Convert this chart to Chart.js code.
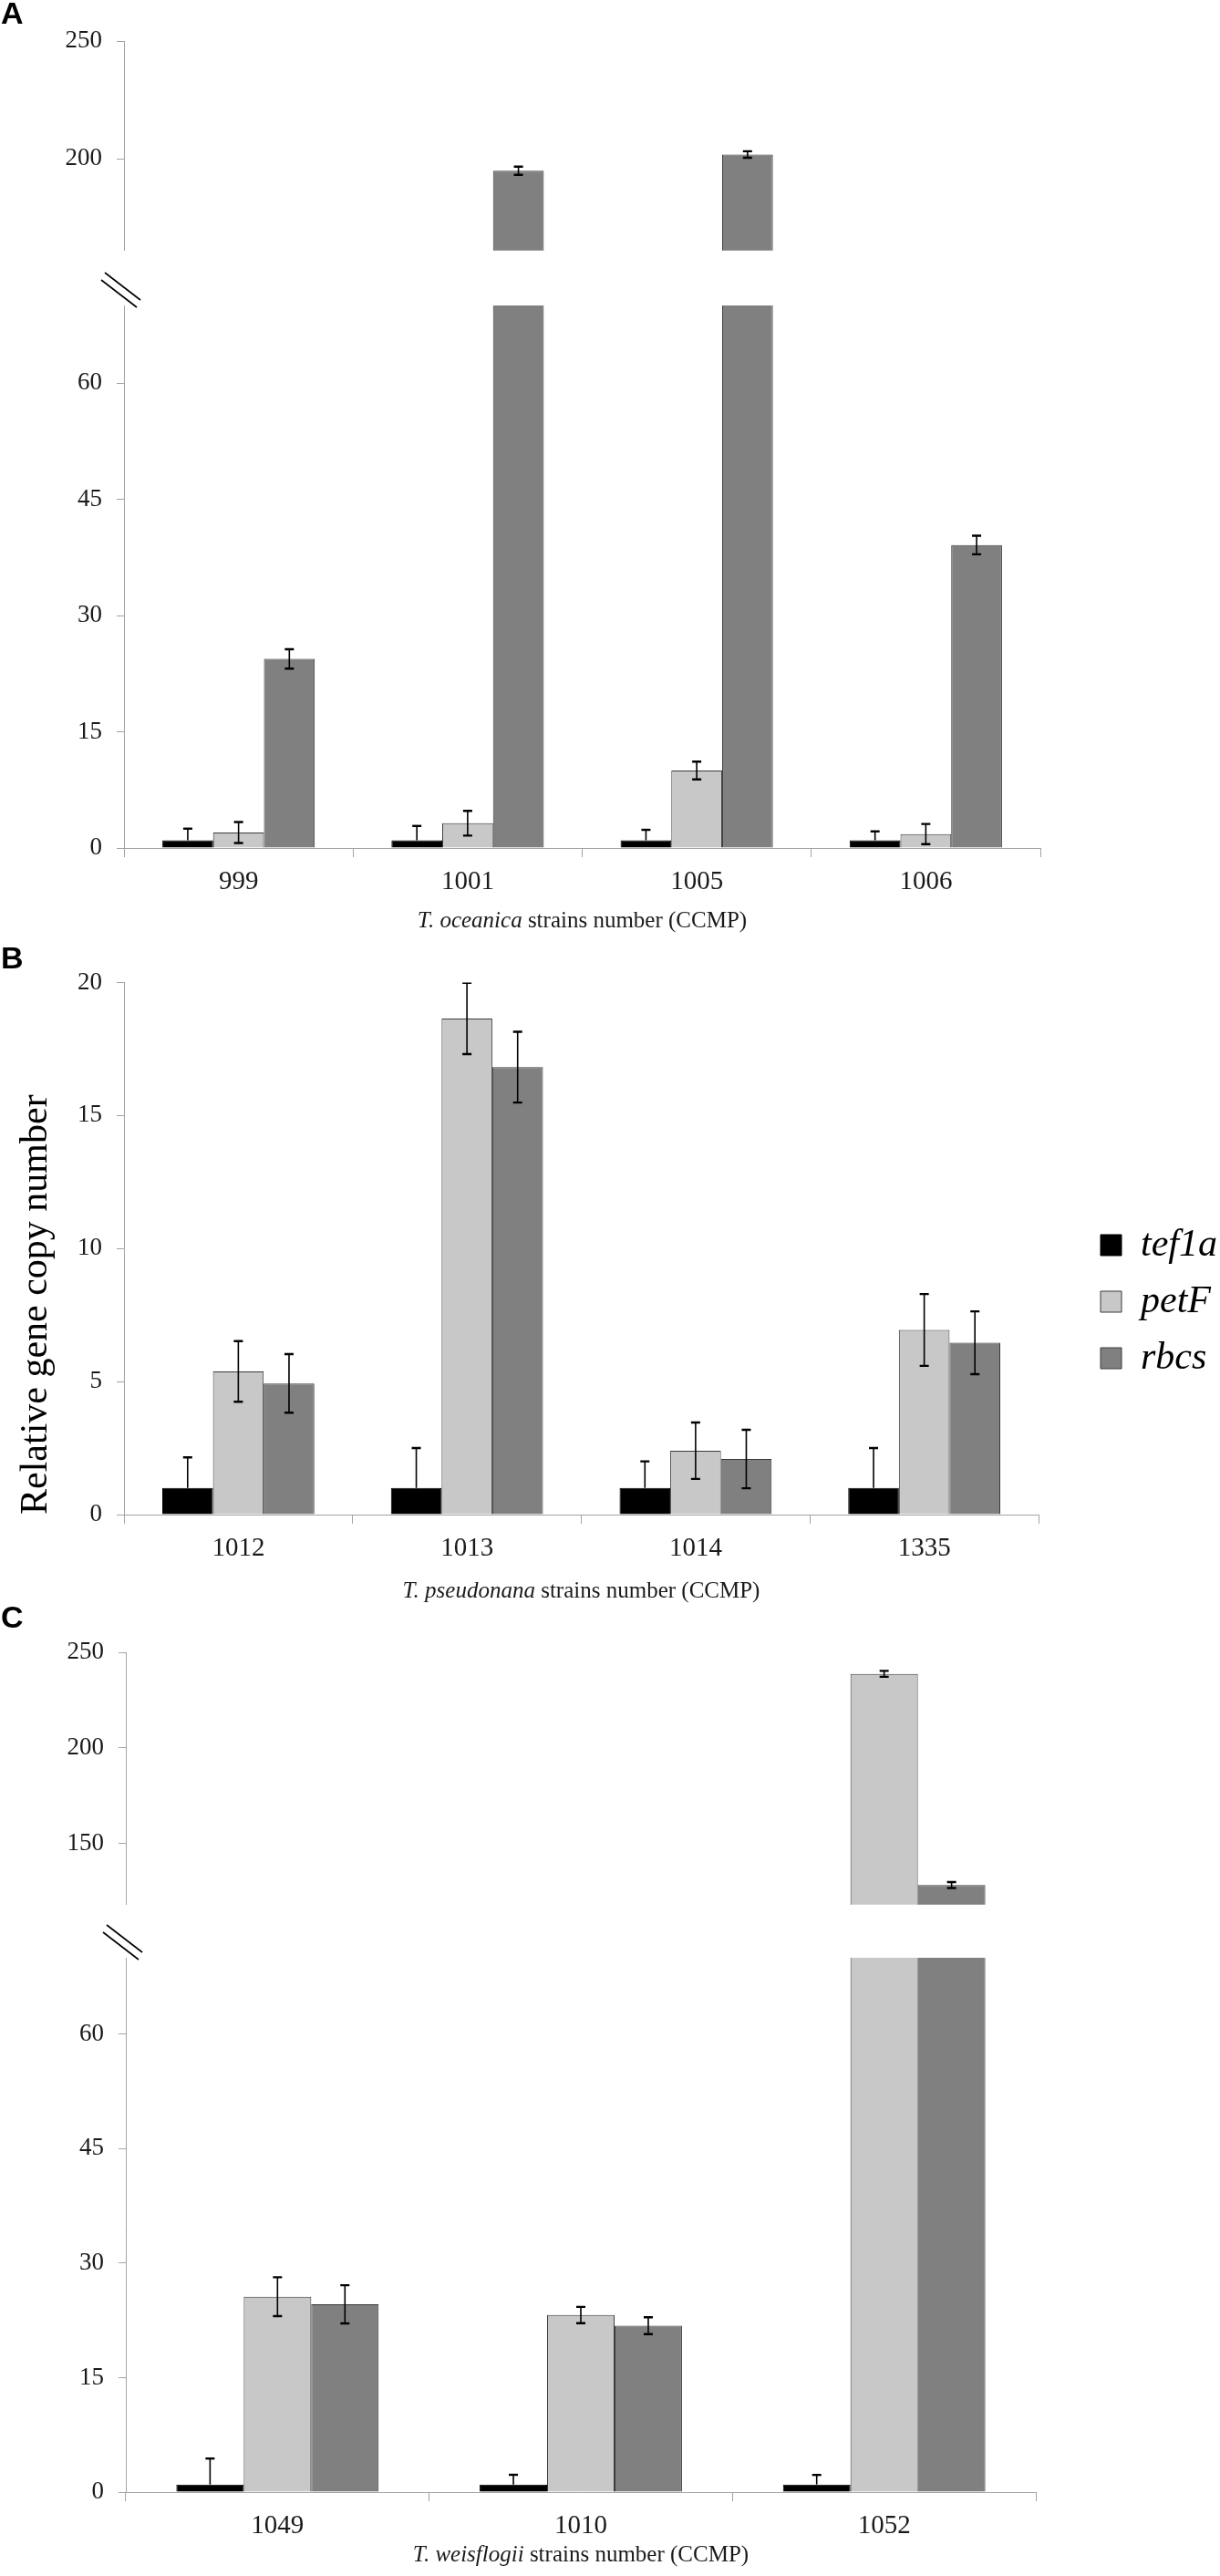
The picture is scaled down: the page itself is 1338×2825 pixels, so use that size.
<!DOCTYPE html>
<html>
<head>
<meta charset="utf-8">
<script src="https://cdn.jsdelivr.net/npm/chart.js@4.4.1/dist/chart.umd.min.js"></script>
<style>
  html, body { margin: 0; padding: 0; background: #ffffff; }
  body { width: 1338px; height: 2825px; position: relative; overflow: hidden; }
  .box { position: absolute; left: 0; width: 1338px; }
  .panel { position: absolute; left: 1px; z-index: 5; font: bold 34px "Liberation Sans", Arial, sans-serif; line-height: 34px; color: #000; }
</style>
</head>
<body>
<div class="box" style="top:0px;height:307px"><canvas id="cAU"></canvas></div>
<div class="box" style="top:290px;height:740px"><canvas id="cAL"></canvas></div>
<div class="box" style="top:1030px;height:750px"><canvas id="cB"></canvas></div>
<div class="box" style="top:1780px;height:341px"><canvas id="cCU"></canvas></div>
<div class="box" style="top:2100px;height:725px"><canvas id="cCL"></canvas></div>
<div class="panel" style="top:-3px">A</div>
<div class="panel" style="top:1033px">B</div>
<div class="panel" style="top:1756px">C</div>
<script>
// ---------------- data ----------------
const seriesNames = ['tef1a', 'petF', 'rbcs'];

// Panel A: T. oceanica
const strainsA = ['999', '1001', '1005', '1006'];
const tef1aA = [1, 1, 1, 1];
const petFA = [2.0, 3.2, 10.0, 1.8];
const rbcsA = [24.4, 194.9, 201.8, 39.1];
const tef1aErrA = [1.5, 1.85, 1.35, 1.15];
const petFErrA = [1.35, 1.6, 1.15, 1.3];
const rbcsErrA = [1.25, 1.75, 1.4, 1.2];
const yTicksAUpper = [200, 250];
const yTicksALower = [0, 15, 30, 45, 60];
const rangeAUpper = [161, 250];
const rangeALower = [0, 70];
const xTitleA = ['T. oceanica', ' strains number (CCMP)'];

// Panel B: T. pseudonana
const strainsB = ['1012', '1013', '1014', '1335'];
const tef1aB = [1, 1, 1, 1];
const petFB = [5.38, 18.65, 2.4, 6.94];
const rbcsB = [4.93, 16.82, 2.09, 6.46];
const tef1aErrB = [1.15, 1.5, 1.0, 1.5];
const petFErrB = [1.14, 1.34, 1.06, 1.35];
const rbcsErrB = [1.1, 1.33, 1.1, 1.18];
const yTicksB = [0, 5, 10, 15, 20];
const rangeB = [0, 20];
const xTitleB = ['T. pseudonana', ' strains number (CCMP)'];
const yTitleB = 'Relative gene copy number';

// Panel C: T. weisflogii
const strainsC = ['1049', '1010', '1052'];
const tef1aC = [1, 1, 1];
const petFC = [25.6, 23.2, 238.8];
const rbcsC = [24.6, 21.8, 128.3];
const tef1aErrC = [3.4, 1.27, 1.25];
const petFErrC = [2.55, 1.07, 1.55];
const rbcsErrC = [2.5, 1.1, 1.55];
const yTicksCUpper = [150, 200, 250];
const yTicksCLower = [0, 15, 30, 45, 60];
const rangeCUpper = [118, 250];
const rangeCLower = [0, 70];
const xTitleC = ['T. weisflogii', ' strains number (CCMP)'];

// ---------------- style ----------------
const SERIF = "'Liberation Serif', 'Times New Roman', serif";
Chart.defaults.font.family = SERIF;
Chart.defaults.color = '#1a1a1a';
const axisGray = '#a3a3a3';
const fills = ['#000000', '#c8c8c8', '#808080'];
const borders = ['#000000', '#3a3a3a', '#3a3a3a'];

// ---------------- plugins ----------------
const errorBarPlugin = {
  id: 'errorBars',
  afterDatasetsDraw(chart) {
    const { ctx, chartArea } = chart;
    const ys = chart.scales.y;
    ctx.save();
    ctx.beginPath();
    ctx.rect(chartArea.left, chartArea.top, chartArea.right - chartArea.left, chartArea.bottom - chartArea.top);
    ctx.clip();
    ctx.strokeStyle = '#000';
    chart.data.datasets.forEach((ds, di) => {
      const meta = chart.getDatasetMeta(di);
      meta.data.forEach((bar, i) => {
        const v = ds.data[i], e = ds.errors[i];
        const x = bar.x;
        const yHi = ys.getPixelForValue(v + e);
        const yLo = ys.getPixelForValue(ds.plusOnly ? v : v - e);
        ctx.lineWidth = 1.6;
        ctx.beginPath();
        ctx.moveTo(x, yHi); ctx.lineTo(x, yLo);
        ctx.stroke();
        ctx.lineWidth = 2.4;
        ctx.beginPath();
        ctx.moveTo(x - 5, yHi); ctx.lineTo(x + 5, yHi);
        if (!ds.plusOnly) { ctx.moveTo(x - 5, yLo); ctx.lineTo(x + 5, yLo); }
        ctx.stroke();
      });
    });
    ctx.restore();
  }
};

function xTitlePlugin(parts, size, offset) {
  return {
    id: 'xTitle',
    afterDraw(chart) {
      const { ctx, chartArea } = chart;
      const fi = 'italic ' + size + 'px ' + SERIF;
      const fr = size + 'px ' + SERIF;
      ctx.save();
      ctx.font = fi; const w1 = ctx.measureText(parts[0]).width;
      ctx.font = fr; const w2 = ctx.measureText(parts[1]).width;
      const cx = (chartArea.left + chartArea.right) / 2;
      const x = cx - (w1 + w2) / 2;
      const y = chartArea.bottom + offset;
      ctx.textBaseline = 'middle';
      ctx.textAlign = 'left';
      ctx.fillStyle = '#1a1a1a';
      ctx.font = fi; ctx.fillText(parts[0], x, y);
      ctx.font = fr; ctx.fillText(parts[1], x + w1, y);
      ctx.restore();
    }
  };
}

const breakMarksPlugin = {
  id: 'breakMarks',
  afterDraw(chart) {
    const { ctx, chartArea } = chart;
    const l = chartArea.left, t = chartArea.top;
    ctx.save();
    ctx.strokeStyle = '#000';
    ctx.lineWidth = 1.6;
    [[-5.5, -13], [-1.5, -21]].forEach(([dx, dy]) => {
      const cx = l + dx, cy = t + dy;
      ctx.beginPath();
      ctx.moveTo(cx - 19.5, cy - 15);
      ctx.lineTo(cx + 19.5, cy + 15);
      ctx.stroke();
    });
    ctx.restore();
  }
};

function legendPlacePlugin(left, top) {
  return {
    id: 'legendPlace',
    afterLayout(chart) {
      const L = chart.legend;
      if (!L) return;
      L.left = left; L.right = left + 200; L.width = 200;
      L.top = top; L.bottom = top + 230; L.height = 230;
    }
  };
}

// ---------------- builders ----------------
function makeDatasets(values, errors, catPct) {
  return seriesNames.map((name, k) => ({
    label: name,
    data: values[k],
    errors: errors[k],
    plusOnly: k === 0,
    backgroundColor: fills[k],
    borderColor: borders[k],
    borderWidth: 1,
    borderSkipped: 'start',
    clip: 0,
    categoryPercentage: catPct,
    barPercentage: 1.0
  }));
}

function buildChart(id, o) {
  const yScale = {
    type: 'linear',
    min: o.range[0],
    max: o.range[1],
    afterBuildTicks: (s) => { s.ticks = o.yTicks.map((v) => ({ value: v })); },
    afterFit: (s) => { s.width = o.yWidth; },
    ticks: { font: { family: SERIF, size: 27 }, color: '#1a1a1a', padding: 16 },
    grid: { display: true, drawOnChartArea: false, drawTicks: true, tickLength: 8, color: axisGray, tickColor: axisGray, lineWidth: 1 },
    border: { display: true, color: axisGray, width: 1 },
    title: o.yTitle
      ? { display: true, text: o.yTitle, align: 'start', font: { family: SERIF, size: 42 }, color: '#000', padding: { top: 15, bottom: 0 } }
      : { display: false }
  };
  const xScale = {
    type: 'category',
    display: o.xDisplay,
    offset: true,
    afterFit: (s) => { s.height = o.xHeight; },
    ticks: { font: { family: SERIF, size: 29 }, color: '#1a1a1a', padding: 10, maxRotation: 0, autoSkip: false },
    grid: { display: true, offset: true, drawOnChartArea: false, drawTicks: true, tickLength: 10, color: axisGray, tickColor: axisGray, lineWidth: 1 },
    border: { display: true, color: axisGray, width: 1 }
  };
  const plugins = [errorBarPlugin];
  if (o.xTitle) plugins.push(xTitlePlugin(o.xTitle, 25, o.titleOffset));
  if (o.breakMarks) plugins.push(breakMarksPlugin);
  if (o.legend) plugins.push(legendPlacePlugin(o.legend[0], o.legend[1]));
  return new Chart(document.getElementById(id), {
    type: 'bar',
    data: { labels: o.labels, datasets: makeDatasets(o.values, o.errors, o.catPct) },
    options: {
      responsive: true,
      maintainAspectRatio: false,
      animation: false,
      events: [],
      layout: { autoPadding: false, padding: o.padding },
      scales: { x: xScale, y: yScale },
      plugins: {
        tooltip: { enabled: false },
        legend: o.legend ? {
          display: true,
          position: 'chartArea',
          align: 'start',
          labels: { boxWidth: 23, boxHeight: 23, padding: 20, color: '#000', font: { size: 42, style: 'italic', family: SERIF } }
        } : { display: false }
      }
    },
    plugins: plugins
  });
}

// Panel A upper segment
buildChart('cAU', {
  labels: strainsA, values: [tef1aA, petFA, rbcsA], errors: [tef1aErrA, petFErrA, rbcsErrA],
  range: rangeAUpper, yTicks: yTicksAUpper, yWidth: 136, catPct: 0.665,
  padding: { top: 45, right: 197, bottom: 0, left: 0 }, xDisplay: false, xHeight: 0
});
// Panel A lower segment
buildChart('cAL', {
  labels: strainsA, values: [tef1aA, petFA, rbcsA], errors: [tef1aErrA, petFErrA, rbcsErrA],
  range: rangeALower, yTicks: yTicksALower, yWidth: 136, catPct: 0.665,
  padding: { top: 45, right: 197, bottom: 0, left: 0 }, xDisplay: true, xHeight: 100,
  xTitle: xTitleA, titleOffset: 80, breakMarks: true
});
// Panel B
buildChart('cB', {
  labels: strainsB, values: [tef1aB, petFB, rbcsB], errors: [tef1aErrB, petFErrB, rbcsErrB],
  range: rangeB, yTicks: yTicksB, yWidth: 136, catPct: 0.665,
  padding: { top: 47.5, right: 199, bottom: 0, left: 0 }, xDisplay: true, xHeight: 119,
  xTitle: xTitleB, titleOffset: 84, yTitle: yTitleB, legend: [1187, 294.5]
});
// Panel C upper segment
buildChart('cCU', {
  labels: strainsC, values: [tef1aC, petFC, rbcsC], errors: [tef1aErrC, petFErrC, rbcsErrC],
  range: rangeCUpper, yTicks: yTicksCUpper, yWidth: 138, catPct: 0.667,
  padding: { top: 26, right: 202, bottom: 0, left: 0 }, xDisplay: false, xHeight: 0
});
// Panel C lower segment
buildChart('cCL', {
  labels: strainsC, values: [tef1aC, petFC, rbcsC], errors: [tef1aErrC, petFErrC, rbcsErrC],
  range: rangeCLower, yTicks: yTicksCLower, yWidth: 138, catPct: 0.667,
  padding: { top: 47, right: 202, bottom: 0, left: 0 }, xDisplay: true, xHeight: 92,
  xTitle: xTitleC, titleOffset: 69, breakMarks: true
});
</script>
</body>
</html>
